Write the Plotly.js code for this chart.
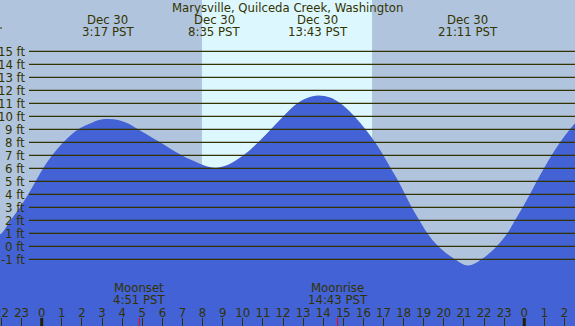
<!DOCTYPE html>
<html>
<head>
<meta charset="utf-8">
<script src="https://cdn.plot.ly/plotly-3.0.1.min.js"></script>
<style>html,body{margin:0;padding:0;background:#B0C4DE;}#chart{width:575px;height:326px;}</style>
</head>
<body>
<div id="chart"></div>
<script>
// ---- data ----
const chartTitle = "Marysville, Quilceda Creek, Washington";
const tideHours = [-2.1, -1.99, -1.54, -1.08, -0.67, -0.3, 0.07, 0.52, 1.08, 1.82, 2.5, 2.8, 3.3, 3.8, 4.3, 4.8, 5.88, 6.96, 7.87, 8.6, 9.3, 10.03, 10.77, 11.4, 12.02, 12.71, 13.2, 13.76, 14.34, 14.85, 15.55, 16.1, 16.58, 16.99, 17.36, 17.74, 18.07, 18.4, 18.78, 19.18, 19.72, 20.55, 21.2, 21.88, 22.63, 23.16, 23.54, 23.92, 24.28, 24.62, 24.98, 25.36, 25.78, 26.27, 26.6];
const tideFeet  = [0.9, 1, 2, 3, 4, 5, 6, 7, 8, 9, 9.5, 9.7, 9.8, 9.72, 9.45, 9, 8, 7, 6.36, 6.05, 6.3, 7, 8, 9, 10, 11, 11.42, 11.6, 11.44, 11, 10, 9, 8, 7, 6, 5, 4, 3, 2, 1, 0, -1, -1.48, -1, 0, 1, 2, 3, 4, 5, 6, 7, 8, 9, 9.6];
const extremeHours = [3.283, 8.583, 13.717, 21.183];
const extremeDates = ["Dec 30", "Dec 30", "Dec 30", "Dec 30"];
const extremeTimes = ["3:17 PST", "8:35 PST", "13:43 PST", "21:11 PST"];
const moonHours = [4.85, 14.717];
const moonNames = ["Moonset", "Moonrise"];
const moonTimes = ["4:51 PST", "14:43 PST"];
const sunriseHour = 7.97;
const sunsetHour = 16.43;
const feetTicks = [-1, 0, 1, 2, 3, 4, 5, 6, 7, 8, 9, 10, 11, 12, 13, 14, 15];
const hourTicks = [-2, -1, 0, 1, 2, 3, 4, 5, 6, 7, 8, 9, 10, 11, 12, 13, 14, 15, 16, 17, 18, 19, 20, 21, 22, 23, 24, 25, 26];
const midnightHours = [0, 24];

// ---- layout / style ----
const W = 575, H = 326;
const xRange = [-2.074, 26.522];
const yRange = [-6.13, 18.95];
const NIGHT = "#B0C4DE", DAY = "#DDF7FE", WATER = "#4262D6", INK = "#333300";
const FONT = "DejaVu Sans Condensed, DejaVu Sans, sans-serif";
const FS = 13;
const py = p => 1 - p / H;

const hourText = hourTicks.map(h => String(((h % 24) + 24) % 24));

const traces = [
  {x: xRange, y: [yRange[0], yRange[0]], mode: "lines", line: {width: 0, color: WATER}, hoverinfo: "skip", showlegend: false},
  {x: tideHours, y: tideFeet, mode: "lines", line: {width: 0, color: WATER, shape: "spline", smoothing: 1, simplify: false},
   fill: "tonexty", fillcolor: WATER, hoverinfo: "skip", showlegend: false}
];

const shapes = [
  {type: "rect", layer: "below", xref: "x", yref: "paper", x0: sunriseHour, x1: sunsetHour, y0: 0, y1: 1, fillcolor: DAY, line: {width: 0}}
];
feetTicks.forEach(v => shapes.push({type: "line", layer: "above", xref: "paper", yref: "y", x0: 29 / W, x1: 1, y0: v, y1: v, line: {color: INK, width: 1.2}}));
midnightHours.forEach(h => shapes.push({type: "line", layer: "above", xref: "x", yref: "paper", x0: h, x1: h, y0: 0, y1: py(318), line: {color: "#222200", width: 3}}));
moonHours.forEach(h => shapes.push({type: "line", layer: "above", xref: "x", yref: "paper", x0: h, x1: h, y0: 0, y1: py(318), line: {color: "#FF0000", width: 1}}));
shapes.push({type: "line", layer: "above", xref: "paper", yref: "paper", x0: 0, x1: 2 / W, y0: py(28), y1: py(28), line: {color: INK, width: 1}});

const font = {family: FONT, size: FS, color: INK};
const annotations = [];
annotations.push({text: chartTitle, xref: "paper", yref: "paper", x: 287 / W, y: py(8), xanchor: "center", yanchor: "middle", showarrow: false, font});
extremeHours.forEach((h, i) => {
  annotations.push({text: extremeDates[i], xref: "x", yref: "paper", x: h, y: py(19.5), xanchor: "center", yanchor: "middle", showarrow: false, font});
  annotations.push({text: extremeTimes[i], xref: "x", yref: "paper", x: h, y: py(31.5), xanchor: "center", yanchor: "middle", showarrow: false, font});
});
moonHours.forEach((h, i) => {
  annotations.push({text: moonNames[i], xref: "x", yref: "paper", x: h, y: py(287), xanchor: "center", yanchor: "middle", showarrow: false, font});
  annotations.push({text: moonTimes[i], xref: "x", yref: "paper", x: h, y: py(299.5), xanchor: "center", yanchor: "middle", showarrow: false, font});
});
feetTicks.forEach(v => annotations.push({text: v + " ft", xref: "paper", yref: "y", x: 27 / W, y: v, xanchor: "right", yanchor: "middle", showarrow: false, font}));

const layout = {
  width: W, height: H,
  margin: {l: 0, r: 0, t: 0, b: 0, pad: 0},
  paper_bgcolor: NIGHT, plot_bgcolor: NIGHT,
  showlegend: false,
  xaxis: {range: xRange, fixedrange: true, showgrid: false, zeroline: false, showline: false,
          tickmode: "array", tickvals: hourTicks, ticktext: hourText,
          ticks: "inside", ticklen: 8, tickwidth: 1, tickcolor: INK,
          ticklabelposition: "inside", ticklabeloverflow: "allow", ticklabelstandoff: -2,
          tickfont: font},
  yaxis: {range: yRange, fixedrange: true, showgrid: false, zeroline: false, showline: false, showticklabels: false, ticks: ""},
  shapes, annotations
};

Plotly.newPlot("chart", traces, layout, {staticPlot: true, displayModeBar: false});
</script>
</body>
</html>
